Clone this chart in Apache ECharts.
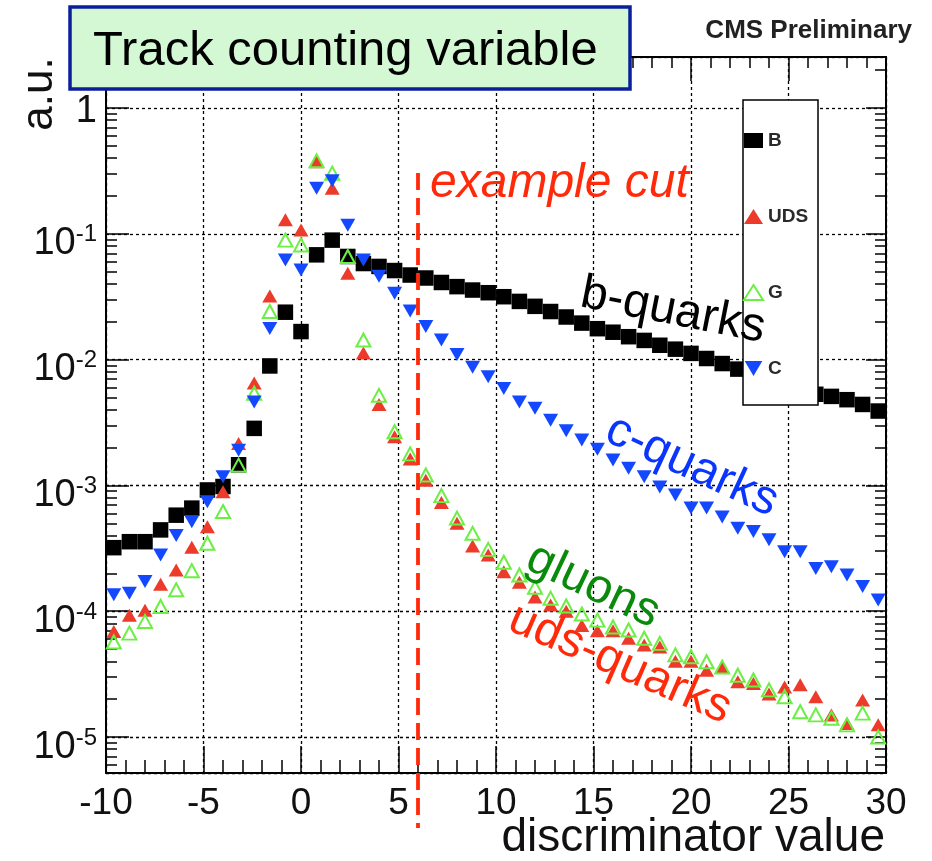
<!DOCTYPE html>
<html><head><meta charset="utf-8">
<script src="https://cdn.jsdelivr.net/npm/echarts@6/dist/echarts.min.js"></script>
<style>html,body{margin:0;padding:0;background:#fff}#chart{width:932px;height:861px}</style>
</head><body><div id="chart"></div>
<script>
// ---- data ----
const binCenters = [-9.6,-8.8,-8.0,-7.2,-6.4,-5.6,-4.8,-4.0,-3.2,-2.4,
  -1.6,-0.8,0.0,0.8,1.6,2.4,3.2,4.0,4.8,5.6,
  6.4,7.2,8.0,8.8,9.6,10.4,11.2,12.0,12.8,13.6,
  14.4,15.2,16.0,16.8,17.6,18.4,19.2,20.0,20.8,21.6,
  22.4,23.2,24.0,24.8,25.6,26.4,27.2,28.0,28.8,29.6];
const bValues = [3.2e-4,3.57e-4,3.57e-4,4.43e-4,5.8e-4,6.6e-4,9.2e-4,9.8e-4,1.46e-3,2.84e-3,
  8.9e-3,2.38e-2,1.67e-2,6.8e-2,8.9e-2,6.6e-2,5.8e-2,5.5e-2,5.1e-2,4.7e-2,
  4.45e-2,4.1e-2,3.8e-2,3.57e-2,3.4e-2,3.16e-2,2.9e-2,2.65e-2,2.41e-2,2.18e-2,
  1.95e-2,1.76e-2,1.65e-2,1.52e-2,1.42e-2,1.3e-2,1.21e-2,1.12e-2,1.02e-2,9.3e-3,
  8.4e-3,7.7e-3,7.0e-3,6.4e-3,5.8e-3,5.3e-3,5.1e-3,4.8e-3,4.4e-3,3.9e-3];
const udsValues = [6.9e-5,9.3e-5,1.02e-4,1.64e-4,2.13e-4,3.22e-4,4.7e-4,8.9e-4,2.15e-3,6.5e-3,
  3.2e-2,0.129,0.107,0.374,0.23,4.85e-2,1.13e-2,4.4e-3,2.44e-3,1.62e-3,
  1.1e-3,7.3e-4,5.0e-4,3.3e-4,2.8e-4,2.06e-4,1.7e-4,1.3e-4,1.12e-4,1.0e-4,
  7.7e-5,7.0e-5,7.0e-5,6.1e-5,5.4e-5,5.2e-5,4.0e-5,4.0e-5,3.4e-5,3.6e-5,
  2.75e-5,2.67e-5,2.2e-5,2.5e-5,2.6e-5,2.09e-5,1.5e-5,1.28e-5,1.97e-5,1.25e-5];
const gValues = [5.7e-5,6.7e-5,8.3e-5,1.09e-4,1.48e-4,2.1e-4,3.47e-4,6.2e-4,1.45e-3,5.4e-3,
  2.41e-2,8.9e-2,8.15e-2,0.38,0.303,6.6e-2,1.43e-2,5.2e-3,2.67e-3,1.78e-3,
  1.21e-3,8.3e-4,5.5e-4,4.16e-4,3.1e-4,2.45e-4,1.94e-4,1.55e-4,1.27e-4,1.1e-4,
  9.5e-5,8.5e-5,7.5e-5,7.1e-5,6.1e-5,5.55e-5,4.5e-5,4.35e-5,3.97e-5,3.6e-5,
  3.1e-5,2.84e-5,2.37e-5,2.09e-5,1.59e-5,1.5e-5,1.41e-5,1.25e-5,1.55e-5,1.0e-5];
const cValues = [1.35e-4,1.39e-4,1.72e-4,2.8e-4,4.0e-4,5.15e-4,7.4e-4,1.17e-3,1.9e-3,4.6e-3,
  1.77e-2,6.2e-2,5.15e-2,0.23,0.264,0.117,6.2e-2,4.6e-2,3.36e-2,2.43e-2,
  1.83e-2,1.43e-2,1.1e-2,8.7e-3,7.3e-3,5.9e-3,4.6e-3,4.1e-3,3.3e-3,2.72e-3,
  2.3e-3,1.94e-3,1.59e-3,1.37e-3,1.17e-3,9.7e-4,8.4e-4,6.6e-4,6.6e-4,5.6e-4,
  4.56e-4,4.3e-4,3.7e-4,2.97e-4,2.97e-4,2.19e-4,2.26e-4,1.94e-4,1.57e-4,1.23e-4];
const seriesNames = ['B', 'UDS', 'G', 'C'];
const xTickValues = [-10, -5, 0, 5, 10, 15, 20, 25, 30];
const yTickValues = [1e-5, 1e-4, 1e-3, 1e-2, 1e-1, 1];
const yMinorTicks = [6e-6,7e-6,8e-6,9e-6,
  2e-5,3e-5,4e-5,5e-5,6e-5,7e-5,8e-5,9e-5,
  2e-4,3e-4,4e-4,5e-4,6e-4,7e-4,8e-4,9e-4,
  2e-3,3e-3,4e-3,5e-3,6e-3,7e-3,8e-3,9e-3,
  2e-2,3e-2,4e-2,5e-2,6e-2,7e-2,8e-2,9e-2,
  0.2,0.3,0.4,0.5,0.6,0.7,0.8,0.9,2];
const xRange = [-10, 30];
const yRange = [5.18e-6, 2.54];
const cutValue = 6;
const xTitle = 'discriminator value';
const yTitle = 'a.u.';

// ---- chart ----
const FONT = '"Liberation Sans", Arial, Helvetica, sans-serif';
const chart = echarts.init(document.getElementById('chart'), null, {renderer: 'canvas'});
const pair = (vals) => binCenters.map((x, i) => [x, vals[i]]);
const downTri = 'path://M0,0 L20,0 L10,17 Z';
const grid = {left: 106, right: 46, top: 57, bottom: 88, containLabel: false, outerBoundsMode: 'none'};

const logAxisBase = {
  type: 'log', logBase: 10, min: yRange[0], max: yRange[1]
};
const hiddenY = (pos, tickLen, custom) => Object.assign({}, logAxisBase, {
  position: pos,
  axisLine: {show: pos === 'right', onZero: false, lineStyle: {color: '#000', width: 2}},
  axisLabel: {show: false},
  splitLine: {show: false},
  axisTick: Object.assign({show: true, inside: true, length: tickLen, lineStyle: {color: '#000', width: 1.5}},
    custom ? {customValues: custom} : {})
});

const option = {
  animation: false,
  backgroundColor: '#fff',
  grid: grid,
  xAxis: [{
    type: 'value', min: xRange[0], max: xRange[1], interval: 5, position: 'bottom',
    axisLine: {show: true, onZero: false, lineStyle: {color: '#000', width: 2}},
    axisTick: {show: true, inside: true, length: 27, lineStyle: {color: '#000', width: 1.5}},
    minorTick: {show: true, splitNumber: 5, length: 13, lineStyle: {color: '#000', width: 1.5}},
    axisLabel: {fontFamily: FONT, fontSize: 37, color: '#111', margin: 12, showMinLabel: true, showMaxLabel: true, hideOverlap: false},
    splitLine: {show: true, lineStyle: {color: '#000', width: 1.3, type: [3, 3]}}
  }, {
    type: 'value', min: xRange[0], max: xRange[1], interval: 5, position: 'top',
    axisLine: {show: true, onZero: false, lineStyle: {color: '#000', width: 2}},
    axisTick: {show: true, inside: true, length: 24, lineStyle: {color: '#000', width: 1.5}},
    minorTick: {show: true, splitNumber: 5, length: 11, lineStyle: {color: '#000', width: 1.5}},
    axisLabel: {show: false},
    splitLine: {show: false}
  }],
  yAxis: [Object.assign({}, logAxisBase, {
    position: 'left',
    axisLine: {show: true, onZero: false, lineStyle: {color: '#000', width: 2}},
    axisTick: {show: true, inside: true, length: 23, lineStyle: {color: '#000', width: 1.5}},
    axisLabel: {
      showMinLabel: false, showMaxLabel: false, margin: 9, color: '#111', fontFamily: FONT,
      padding: [20, 0, 0, 0],
      formatter: function (v) {
        const e = Math.round(Math.log10(v));
        if (e === 0) return '{one|1}';
        return '{b|10}{s|' + e + '}';
      },
      rich: {
        one: {fontFamily: FONT, fontSize: 38, lineHeight: 38, color: '#111', padding: [0, 0, 12, 0]},
        b: {fontFamily: FONT, fontSize: 38, lineHeight: 38, color: '#111'},
        s: {fontFamily: FONT, fontSize: 24, lineHeight: 24, color: '#111', padding: [0, 0, 18, 0]}
      }
    },
    splitLine: {show: true, lineStyle: {color: '#000', width: 1.3, type: [3, 3]}}
  }),
    hiddenY('left', 11, yMinorTicks),
    hiddenY('right', 20, null),
    hiddenY('right', 11, yMinorTicks)
  ],
  legend: {
    orient: 'vertical', left: 743, top: 131, itemGap: 57, itemWidth: 19, itemHeight: 15, padding: 0,
    selectedMode: false, z: 8,
    textStyle: {fontFamily: FONT, fontWeight: 'bold', fontSize: 19, color: '#2a2a2a'},
    data: [
      {name: seriesNames[0], icon: 'rect'},
      {name: seriesNames[1], icon: 'triangle'},
      {name: seriesNames[2], icon: 'triangle'},
      {name: seriesNames[3], icon: downTri}
    ]
  },
  series: [{
    name: seriesNames[0], type: 'scatter', data: pair(bValues), symbol: 'rect', symbolSize: 15.5,
    itemStyle: {color: '#000', opacity: 1}, silent: true
  }, {
    name: seriesNames[1], type: 'scatter', data: pair(udsValues), symbol: 'triangle', symbolSize: [15, 13],
    itemStyle: {color: '#ec3b2a', opacity: 1}, silent: true
  }, {
    name: seriesNames[2], type: 'scatter', data: pair(gValues), symbol: 'triangle', symbolSize: [14, 13],
    itemStyle: {color: 'rgba(0,0,0,0)', borderColor: '#6cef43', borderWidth: 2, opacity: 1}, silent: true
  }, {
    name: seriesNames[3], type: 'scatter', data: pair(cValues), symbol: downTri, symbolSize: [15, 13],
    itemStyle: {color: '#1448ff', opacity: 1}, silent: true
  }]
};

function annotations(cutX) {
  const els = [
    {id: 'titleBox', type: 'rect', z: 10, shape: {x: 70, y: 7, width: 560, height: 82},
      style: {fill: '#d3f8d3', stroke: '#0b1f9c', lineWidth: 3.5}},
    {id: 'titleText', type: 'text', z: 11, x: 93, y: 51,
      style: {text: 'Track counting variable', font: '49px ' + FONT, fill: '#000', align: 'left', verticalAlign: 'middle'}},
    {id: 'cms', type: 'text', z: 11, x: 912, y: 31,
      style: {text: 'CMS Preliminary', font: 'bold 26px ' + FONT, fill: '#222', align: 'right', verticalAlign: 'middle'}},
    {id: 'xTitle', type: 'text', z: 11, x: 885, y: 838,
      style: {text: xTitle, font: '46px ' + FONT, fill: '#111', align: 'right', verticalAlign: 'middle'}},
    {id: 'yTitle', type: 'text', z: 11, x: 40, y: 94, rotation: Math.PI / 2,
      style: {text: yTitle, font: '44px ' + FONT, fill: '#111', align: 'center', verticalAlign: 'middle'}},
    {id: 'legendBox', type: 'rect', z: 5, shape: {x: 743, y: 100, width: 75, height: 305},
      style: {fill: '#fff', stroke: '#000', lineWidth: 1.5}},
    {id: 'cutText', type: 'text', z: 11, x: 430, y: 184,
      style: {text: 'example cut', font: 'italic 48px ' + FONT, fill: '#ff2a0a', align: 'left', verticalAlign: 'middle'}},
    {id: 'bLab', type: 'text', z: 11, x: 673, y: 311, rotation: -0.195,
      style: {text: 'b-quarks', font: '48px ' + FONT, fill: '#000', align: 'center', verticalAlign: 'middle'}},
    {id: 'cLab', type: 'text', z: 11, x: 692, y: 466, rotation: -0.43,
      style: {text: 'c-quarks', font: '48px ' + FONT, fill: '#0a35ff', align: 'center', verticalAlign: 'middle'}},
    {id: 'gLab', type: 'text', z: 11, x: 593, y: 586, rotation: -0.44,
      style: {text: 'gluons', font: '48px ' + FONT, fill: '#0a8a0a', align: 'center', verticalAlign: 'middle'}},
    {id: 'udsLab', type: 'text', z: 11, x: 620, y: 664, rotation: -0.41,
      style: {text: 'uds-quarks', font: '48px ' + FONT, fill: '#ff2a0a', align: 'center', verticalAlign: 'middle'}}
  ];
  if (cutX != null) {
    els.push({id: 'cutLine', type: 'line', z: 9, shape: {x1: cutX, y1: 173, x2: cutX, y2: 828},
      style: {stroke: '#ff2a0a', lineWidth: 3.8, lineDash: [17, 8]}});
  }
  return els;
}

option.graphic = annotations(null);
chart.setOption(option);
const cutX = chart.convertToPixel({xAxisIndex: 0}, cutValue);
chart.setOption({graphic: annotations(cutX)});
</script>
</body></html>
